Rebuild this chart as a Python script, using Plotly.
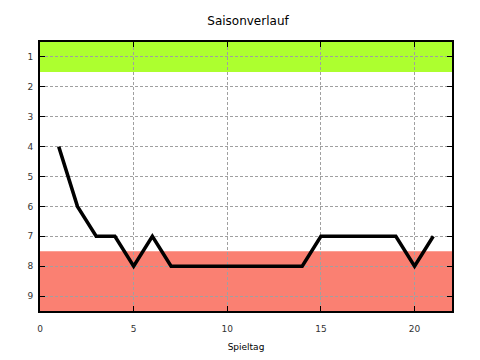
import plotly.graph_objects as go

spieltag = list(range(1, 22))
platz = [4, 6, 7, 7, 8, 7, 8, 8, 8, 8, 8, 8, 8, 8, 7, 7, 7, 7, 7, 8, 7]
x_ticks = [0, 5, 10, 15, 20]
y_ticks = [1, 2, 3, 4, 5, 6, 7, 8, 9]
green_band = (0.5, 1.5)
red_band = (7.5, 9.5)

fig = go.Figure()
fig.add_trace(go.Scatter(x=spieltag, y=platz, mode="lines",
                         line=dict(color="black", width=3.5), showlegend=False))

fig.add_shape(type="rect", xref="paper", yref="y", x0=0, x1=1,
              y0=green_band[0], y1=green_band[1], fillcolor="#adff2f",
              line_width=0, layer="below")
fig.add_shape(type="rect", xref="paper", yref="y", x0=0, x1=1,
              y0=red_band[0], y1=red_band[1], fillcolor="#fa8072",
              line_width=0, layer="below")

axis_common = dict(showline=True, linecolor="black", linewidth=2, mirror="ticks",
                   ticks="inside", ticklen=5, tickcolor="black", tickwidth=1,
                   showgrid=True, gridcolor="#a0a0a0", griddash="3px,2px", gridwidth=1,
                   zeroline=False, automargin=False, tickfont=dict(size=9, color="#333333"))

fig.update_xaxes(range=[0, 22], tickvals=x_ticks, ticklabelstandoff=8,
                 title=dict(text="Spieltag", font=dict(size=9, color="black"), standoff=11),
                 **axis_common)
fig.update_yaxes(range=[9.5, 0.5], tickvals=y_ticks, ticklabelstandoff=3, **axis_common)

fig.update_layout(
    width=480, height=360,
    margin=dict(l=32, r=36, t=34, b=57),
    paper_bgcolor="white", plot_bgcolor="white",
    font=dict(family="DejaVu Sans", size=9, color="black"),
    title=dict(text="Saisonverlauf", x=0.5, xanchor="center", y=0.964, yanchor="middle",
               font=dict(size=12, color="black")),
)

fig.write_html("out.html")
